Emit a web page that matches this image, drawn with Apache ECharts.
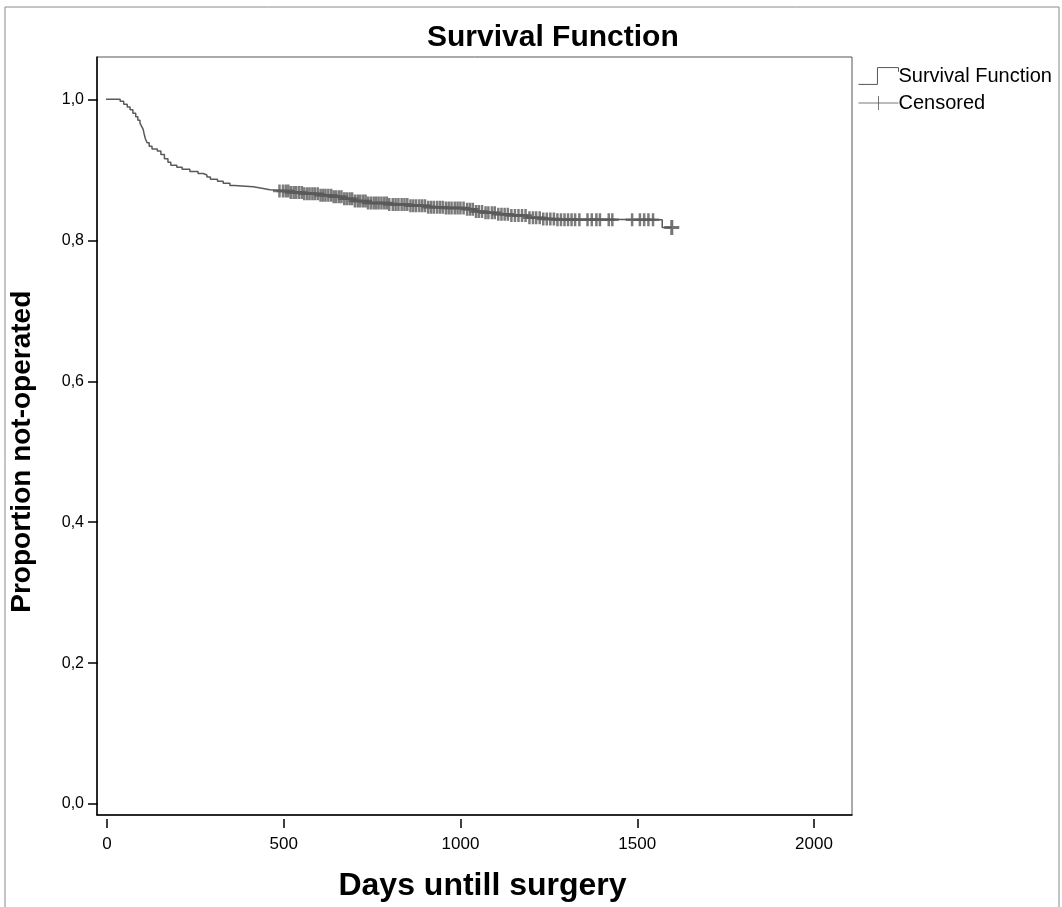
<!DOCTYPE html>
<html>
<head>
<meta charset="utf-8">
<style>
    html, body { margin: 0; padding: 0; background: #fff; }
    #survChart { width: 1062px; height: 907px; }
</style>
<script src="https://cdn.jsdelivr.net/npm/echarts@6/dist/echarts.min.js"></script>
</head>
<body>
<div id="survChart"></div>
<script>
    // Kaplan-Meier step curve: days and survival after each step
    var kmDays = [0, 40, 50, 60, 68, 76, 84, 90, 96, 100, 105, 108, 111, 116, 122, 130, 145, 155, 165, 175,
        183, 200, 215, 237, 260, 275, 285, 295, 315, 331, 350, 362, 416, 440, 463, 520, 560, 600, 641, 670,
        700, 737, 800, 860, 907, 960, 1020, 1045, 1065, 1100, 1140, 1189, 1230, 1270, 1571, 1598];
    var kmSurv = [1.000, 0.997, 0.993, 0.989, 0.985, 0.980, 0.975, 0.970, 0.966, 0.962, 0.957, 0.950, 0.944, 0.938, 0.933, 0.929, 0.926, 0.921, 0.915, 0.910,
        0.906, 0.903, 0.900, 0.897, 0.894, 0.892, 0.889, 0.886, 0.883, 0.880, 0.877, 0.875, 0.873, 0.871, 0.869, 0.867, 0.865, 0.863, 0.861, 0.858,
        0.855, 0.852, 0.850, 0.848, 0.846, 0.845, 0.843, 0.840, 0.838, 0.836, 0.834, 0.831, 0.829, 0.828, 0.817, 0.817];

    // censored cases (days)
    var censDays = [490, 500, 508, 515, 522, 530, 537, 545, 553, 560, 568, 575, 583, 590, 598, 606, 613, 620, 628, 636,
        643, 650, 658, 665, 673, 680, 688, 695, 703, 711, 718, 726, 733, 740, 748, 756, 763, 770, 778, 786,
        793, 800, 810, 818, 826, 835, 843, 851, 860, 868, 876, 885, 893, 901, 910, 918, 926, 935, 943, 951,
        960, 968, 976, 985, 993, 1001, 1010, 1020, 1028, 1036, 1045, 1053, 1062, 1072, 1080, 1090, 1098, 1108, 1117, 1126,
        1135, 1145, 1155, 1165, 1175, 1185, 1196, 1206, 1215, 1225, 1235, 1245, 1255, 1265, 1275, 1285, 1295, 1305, 1315, 1325,
        1337, 1360, 1372, 1385, 1395, 1420, 1430, 1486, 1508, 1520, 1532, 1545];
    var lastCens = 1598;

    var xTicks = [0, 2000, 500];   // min, max, step
    var yTicks = [0, 1, 0.2];

    // survival value at day t (from the step curve)
    function survAt(t) {
        var s = kmSurv[0];
        for (var i = 0; i < kmDays.length; i++) {
            if (kmDays[i] <= t) s = kmSurv[i];
        }
        return s;
    }

    var kmData = kmDays.map(function (d, i) { return [d, kmSurv[i]]; });
    var censData = censDays.map(function (d) { return [d, survAt(d)]; });
    censData.push({
        value: [lastCens, survAt(lastCens)],
        symbolSize: 15,
        itemStyle: { borderWidth: 3, borderColor: '#505050' }
    });

    var plusPath = 'path://M0,5L10,5M5,0L5,10';
    var stepPath = 'path://M0,18L18,18L18,2L38,2L38,6';
    var fontName = 'Liberation Sans';

    var myChart = echarts.init(document.getElementById('survChart'));
    var option = {
        animation: false,
        textStyle: { fontFamily: fontName },
        title: {
            text: 'Survival Function',
            left: 422,
            top: 18,
            textStyle: { fontSize: 30, fontWeight: 'bold', color: '#000', fontFamily: fontName }
        },
        legend: {
            orient: 'vertical',
            left: 853,
            top: 61,
            itemGap: 7,
            itemWidth: 40,
            itemHeight: 18,
            textStyle: { fontSize: 20, color: '#000', padding: [0, 0, 0, -5] },
            data: [
                { name: 'Survival Function', icon: stepPath,
                  itemStyle: { color: 'rgba(0,0,0,0)', borderColor: '#555', borderWidth: 1 } },
                { name: 'Censored', icon: 'path://M0,9L40,9M20,2L20,16',
                  itemStyle: { color: 'rgba(0,0,0,0)', borderColor: '#555', borderWidth: 1 } }
            ]
        },
        graphic: [{
            type: 'rect',
            shape: { x: 5, y: 7, width: 1054, height: 920 },
            style: { fill: 'none', stroke: '#8a8a8a', lineWidth: 1 },
            silent: true
        }],
        grid: [
            // data area (plot box)
            { left: 97, right: 210, top: 57, bottom: 88, show: true, borderColor: '#555', borderWidth: 1 },
            // tick area (0..2000, 0..1)
            { left: 106, right: 248, top: 99.5, bottom: 103 }
        ],
        xAxis: [{
            type: 'value', gridIndex: 0, min: -25.4, max: 2107,
            name: 'Days untill surgery', nameLocation: 'middle', nameGap: 55,
            nameTextStyle: { fontSize: 32, fontWeight: 'bold', color: '#000', padding: [0, 0, 0, 16] },
            axisLine: { onZero: false, lineStyle: { color: '#000', width: 1.5 } },
            axisTick: { show: false }, axisLabel: { show: false }, splitLine: { show: false }
        }, {
            type: 'value', gridIndex: 1, min: xTicks[0], max: xTicks[1], interval: xTicks[2], offset: 15,
            axisLine: { show: false, onZero: false },
            axisTick: { show: true, length: 9, lineStyle: { color: '#000', width: 1.5 } },
            axisLabel: {
                fontSize: 17, color: '#000', margin: 17,
                formatter: function (v) { return String(v); }
            },
            splitLine: { show: false }
        }],
        yAxis: [{
            type: 'value', gridIndex: 0, min: -0.0213, max: 1.0603,
            axisLine: { onZero: false, lineStyle: { color: '#000', width: 1.5 } },
            axisTick: { show: false }, axisLabel: { show: false }, splitLine: { show: false }
        }, {
            type: 'value', gridIndex: 1, min: yTicks[0], max: yTicks[1], interval: yTicks[2], offset: 9,
            name: 'Proportion not-operated', nameLocation: 'middle', nameGap: 62,
            nameTextStyle: { fontSize: 28, fontWeight: 'bold', color: '#000' },
            axisLine: { show: false, onZero: false },
            axisTick: { show: true, length: 10, lineStyle: { color: '#000', width: 1.5 } },
            axisLabel: {
                fontSize: 16, color: '#000', margin: 14,
                formatter: function (v) { return v.toFixed(1).replace('.', ','); }
            },
            splitLine: { show: false }
        }],
        series: [{
            name: 'Survival Function',
            type: 'line',
            xAxisIndex: 0, yAxisIndex: 0,
            step: 'end',
            symbol: 'none',
            data: kmData,
            lineStyle: { color: '#5a5a5a', width: 1.5 },
            itemStyle: { color: '#5a5a5a' }
        }, {
            name: 'Censored',
            type: 'scatter',
            xAxisIndex: 0, yAxisIndex: 0,
            symbol: plusPath,
            symbolSize: 13,
            data: censData,
            itemStyle: { color: 'rgba(0,0,0,0)', borderColor: '#5a5a5a', borderWidth: 2.5 }
        }]
    };
    myChart.setOption(option, true);
</script>
</body>
</html>
